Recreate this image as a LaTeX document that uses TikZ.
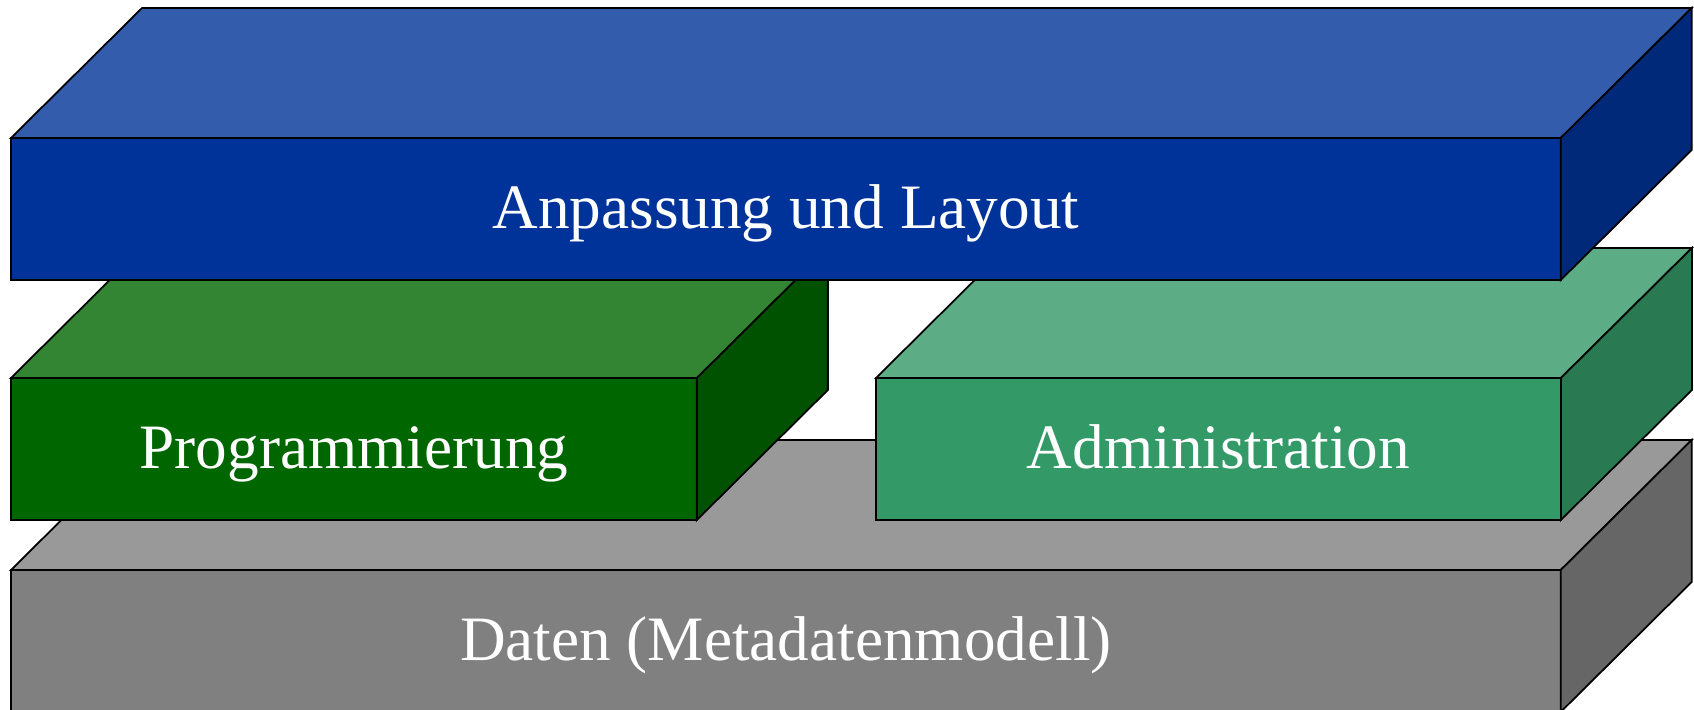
\documentclass[tikz,border=0pt]{standalone}
\usepackage{fontspec}
\setmainfont{Liberation Serif}
\usetikzlibrary{calc}
\definecolor{layoutblue}{HTML}{003399}
\definecolor{progreen}{HTML}{006600}
\definecolor{admingreen}{HTML}{339966}
\definecolor{datagrey}{HTML}{808080}

% top and right faces of a block, drawn from its front node
\newcommand{\blockfaces}[2]{%
  \filldraw[face, fill=#2!80!white] (#1.north west) -- ++(131,-130)
    -- ($(#1.north east)+(131,-130)$) -- (#1.north east) -- cycle;
  \filldraw[face, fill=#2!80!black] (#1.north east) -- ++(131,-130)
    -- ($(#1.south east)+(131,-130)$) -- (#1.south east) -- cycle;}

\begin{document}
\begin{tikzpicture}[x=0.02cm, y=-0.02cm,
  every node/.style={font=\fontsize{36}{40}\selectfont},
  face/.style={draw=black, line width=1pt, line join=miter},
  front/.style={draw=black, line width=1pt, anchor=north west,
    minimum height=2.84cm, inner sep=0pt, outer sep=0pt, text=white,
    text height=1cm, text depth=0.2cm}]
\useasboundingbox (0,0) rectangle (1694,710);
% bottom layer
\node[front, fill=datagrey, minimum width=31cm] (daten) at (11,570)
  {Daten (Metadatenmodell)};
\blockfaces{daten}{datagrey}
% middle layer
\node[front, fill=progreen, minimum width=13.72cm] (prog) at (11,378)
  {Programmierung};
\blockfaces{prog}{progreen}
\node[front, fill=admingreen, minimum width=13.7cm] (admin) at (876,378)
  {Administration};
\blockfaces{admin}{admingreen}
% top layer
\node[front, fill=layoutblue, minimum width=31cm] (layout) at (11,138)
  {Anpassung und Layout};
\blockfaces{layout}{layoutblue}
\end{tikzpicture}
\end{document}
